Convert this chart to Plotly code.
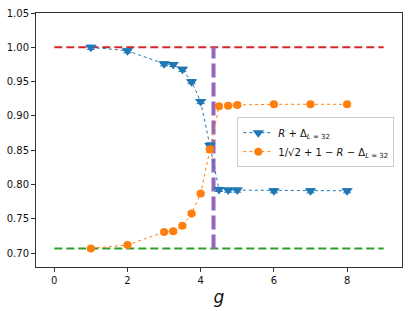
import plotly.graph_objects as go

g = [1, 2, 3, 3.25, 3.5, 3.75, 4, 4.25, 4.5, 4.75, 5, 6, 7, 8]
blue = [1.000, 0.995, 0.976, 0.975, 0.968, 0.950, 0.921, 0.857, 0.793, 0.792, 0.792, 0.791, 0.791, 0.791]
blue_err = [0.003, 0.003, 0.003, 0.003, 0.003, 0.003, 0.003, 0.004, 0.003, 0.003, 0.003, 0.003, 0.003, 0.003]
orange = [0.707, 0.712, 0.731, 0.732, 0.740, 0.758, 0.787, 0.851, 0.914, 0.915, 0.916, 0.917, 0.917, 0.917]
orange_err = [0.002, 0.002, 0.002, 0.002, 0.002, 0.002, 0.002, 0.004, 0.002, 0.002, 0.002, 0.002, 0.002, 0.002]
ref_hi = 1.0
ref_lo = 0.7071
g_c = 4.35
x_line = [0, 9]

BLUE = "#1f77b4"
ORANGE = "#ff7f0e"

fig = go.Figure()
fig.add_trace(go.Scatter(x=x_line, y=[ref_hi, ref_hi], mode="lines",
                         line=dict(color="#d62728", width=2, dash="8px,4px"), showlegend=False))
fig.add_trace(go.Scatter(x=x_line, y=[ref_lo, ref_lo], mode="lines",
                         line=dict(color="#2ca02c", width=2, dash="8px,4px"), showlegend=False))
fig.add_trace(go.Scatter(x=[g_c, g_c], y=[ref_lo, ref_hi], mode="lines",
                         line=dict(color="#9467bd", width=4, dash="14px,5px"), showlegend=False))
fig.add_trace(go.Scatter(x=g, y=blue, mode="lines+markers", name="<i>R</i> + Δ<sub><i>L</i> = 32</sub>",
                         line=dict(color=BLUE, width=1, dash="dot"),
                         marker=dict(symbol="triangle-down", size=10, color=BLUE),
                         error_y=dict(type="data", array=blue_err, color=BLUE, width=4, thickness=1)))
fig.add_trace(go.Scatter(x=g, y=orange, mode="lines+markers",
                         name="1/√2 + 1 − <i>R</i> − Δ<sub><i>L</i> = 32</sub>",
                         line=dict(color=ORANGE, width=1, dash="dot"),
                         marker=dict(symbol="circle", size=8, color=ORANGE),
                         error_y=dict(type="data", array=orange_err, color=ORANGE, width=4, thickness=1)))

axis_common = dict(showline=True, linecolor="#333", linewidth=1, mirror=True, ticks="outside",
                   ticklen=4, tickcolor="#333", showgrid=False, zeroline=False, automargin=False,
                   tickfont=dict(family="DejaVu Sans", size=10, color="#111"))
fig.update_layout(
    width=415, height=311,
    margin=dict(l=36, r=13, t=13, b=44),
    plot_bgcolor="white", paper_bgcolor="white",
    xaxis=dict(range=[-0.5, 9.5], tickvals=[0, 2, 4, 6, 8],
               title=dict(text="<i>g</i>", font=dict(family="DejaVu Sans", size=17, color="#111"), standoff=6),
               **axis_common),
    yaxis=dict(range=[0.68, 1.05], tickvals=[0.70, 0.75, 0.80, 0.85, 0.90, 0.95, 1.00, 1.05],
               tickformat=".2f", **axis_common),
    legend=dict(x=0.55, y=0.59, xanchor="left", yanchor="top", bgcolor="rgba(255,255,255,0.85)",
                bordercolor="#ccc", borderwidth=1, font=dict(family="DejaVu Sans", size=10, color="#111"),
                tracegroupgap=2),
    showlegend=True,
)
fig.write_html("out.html", config={"displayModeBar": False},
               post_script="document.body.style.margin='0';")
